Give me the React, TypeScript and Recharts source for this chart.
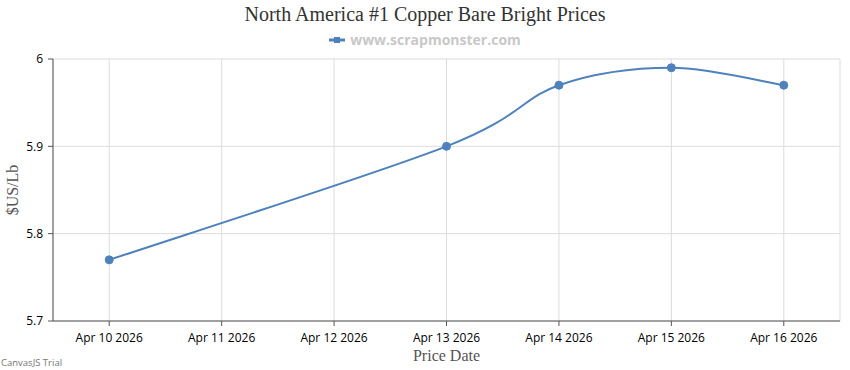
import React from "react";
import {
  LineChart,
  Line,
  XAxis,
  YAxis,
  CartesianGrid,
  Label,
} from "recharts";

// Prices (Apr 11 / 12 have no data)
const dates = ["2026-04-10", "2026-04-13", "2026-04-14", "2026-04-15", "2026-04-16"];
const prices = [5.77, 5.9, 5.97, 5.99, 5.97];

const tickDates = [
  "2026-04-10",
  "2026-04-11",
  "2026-04-12",
  "2026-04-13",
  "2026-04-14",
  "2026-04-15",
  "2026-04-16",
];
const yTicks = [5.7, 5.8, 5.9, 6];

const DAY = 24 * 3600 * 1000;
const toTime = (d: string) => Date.parse(d + "T00:00:00Z");
const MONTHS = ["Jan", "Feb", "Mar", "Apr", "May", "Jun", "Jul", "Aug", "Sep", "Oct", "Nov", "Dec"];
const fmtDate = (t: number) => {
  const d = new Date(t);
  return `${MONTHS[d.getUTCMonth()]} ${d.getUTCDate()} ${d.getUTCFullYear()}`;
};

const data = dates.map((d, i) => ({ t: toTime(d), price: prices[i] }));
const xTicks = tickDates.map(toTime);
const xDomain = [xTicks[0] - DAY / 2, xTicks[xTicks.length - 1] + DAY / 2];

// spline like canvasjs draws it (catmull-rom, tension 2)
function splineCurve(context: any) {
  let pts: number[][] = [];
  return {
    areaStart() {},
    areaEnd() {},
    lineStart() {
      pts = [];
    },
    point(x: number, y: number) {
      pts.push([+x, +y]);
    },
    lineEnd() {
      if (!pts.length) return;
      const n = pts.length;
      context.moveTo(pts[0][0], pts[0][1]);
      const drv = (k: number) => {
        const a = pts[k === 0 ? 0 : k - 1];
        const b = pts[k === n - 1 ? k : k + 1];
        return [(b[0] - a[0]) / 2, (b[1] - a[1]) / 2];
      };
      for (let i = 1; i < n; i++) {
        const p0 = pts[i - 1];
        const p1 = pts[i];
        const d0 = drv(i - 1);
        const d1 = drv(i);
        context.bezierCurveTo(
          p0[0] + d0[0] / 3,
          p0[1] + d0[1] / 3,
          p1[0] - d1[0] / 3,
          p1[1] - d1[1] / 3,
          p1[0],
          p1[1]
        );
      }
    },
  };
}

const LINE_COLOR = "#4F81BC";
const SANS = "'Open Sans', sans-serif";
const SERIF = "'Liberation Serif', 'Times New Roman', serif";

export default function App() {
  return (
    <div style={{ position: "absolute", left: 0, top: 0, width: 850, height: 370, background: "#fff" }}>
      <div
        style={{
          position: "absolute",
          top: 3,
          width: 850,
          textAlign: "center",
          fontFamily: SERIF,
          fontSize: 20,
          color: "#333",
        }}
      >
        North America #1 Copper Bare Bright Prices
      </div>
      <div
        style={{
          position: "absolute",
          top: 30,
          width: 850,
          display: "flex",
          justifyContent: "center",
          alignItems: "center",
          fontFamily: SANS,
          fontWeight: 700,
          fontSize: 14,
          color: "#c8c8c8",
        }}
      >
        <svg width={16} height={10} style={{ marginRight: 5 }}>
          <line x1={0} y1={5} x2={16} y2={5} stroke={LINE_COLOR} strokeWidth={3} />
          <rect x={5} y={2} width={6} height={6} fill={LINE_COLOR} />
        </svg>
        www.scrapmonster.com
      </div>
      <div
        style={{
          position: "absolute",
          left: 1,
          bottom: 1,
          fontFamily: SANS,
          fontSize: 9.5,
          color: "#777",
        }}
      >
        CanvasJS Trial
      </div>
      <LineChart
        width={850}
        height={370}
        data={data}
        margin={{ top: 59, right: 10, bottom: 19, left: 0 }}
        style={{ position: "absolute", left: 0, top: 0 }}
      >
        <CartesianGrid stroke="#dcdcdc" />
        <XAxis
          dataKey="t"
          type="number"
          scale="linear"
          domain={xDomain}
          ticks={xTicks}
          tickFormatter={fmtDate}
          height={30}
          stroke="#555"
          tickSize={5}
          tickMargin={7}
          tick={{ fill: "#000", fontFamily: SANS, fontSize: 12 }}
          allowDataOverflow
        >
          <Label
            value="Price Date"
            position="insideBottom"
            offset={-10}
            style={{ fontFamily: SERIF, fontSize: 16, fill: "#555" }}
          />
        </XAxis>
        <YAxis
          type="number"
          domain={[5.7, 6]}
          ticks={yTicks}
          width={53}
          stroke="#555"
          tickSize={5}
          tickMargin={5}
          tick={{ fill: "#000", fontFamily: SANS, fontSize: 12 }}
        >
          <Label
            value="$US/Lb"
            angle={-90}
            position="insideLeft"
            offset={12}
            style={{ fontFamily: SERIF, fontSize: 16, fill: "#555", textAnchor: "middle" }}
          />
        </YAxis>
        <Line
          type={splineCurve as any}
          dataKey="price"
          stroke={LINE_COLOR}
          strokeWidth={2}
          dot={{ r: 4, fill: LINE_COLOR, stroke: LINE_COLOR, strokeWidth: 1 }}
          isAnimationActive={false}
        />
      </LineChart>
    </div>
  );
}
